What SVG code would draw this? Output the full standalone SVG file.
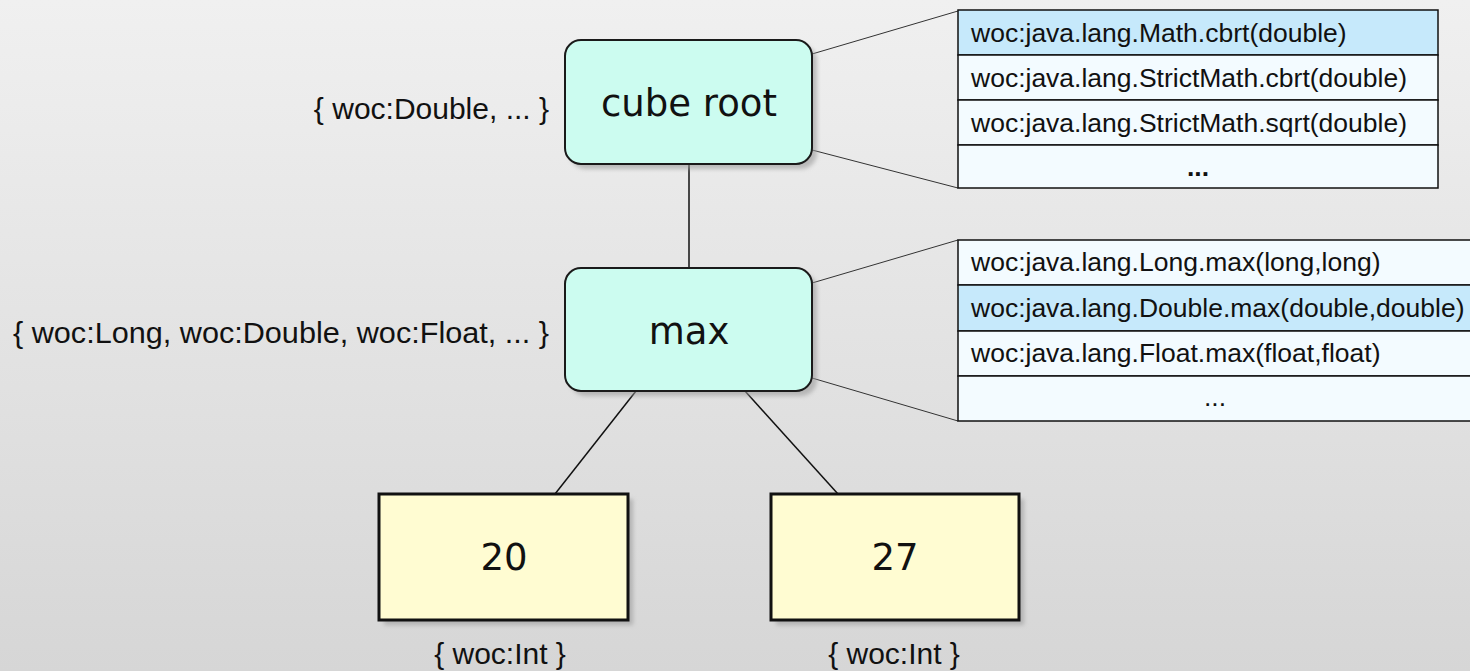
<svg xmlns="http://www.w3.org/2000/svg" width="1470" height="671" viewBox="0 0 1470 671">
<defs>
<linearGradient id="bg" x1="0" y1="0" x2="0" y2="1">
<stop offset="0" stop-color="#f0f0f0"/>
<stop offset="1" stop-color="#d6d6d6"/>
</linearGradient>
<filter id="sh" x="-10%" y="-10%" width="130%" height="130%">
<feGaussianBlur stdDeviation="2"/>
</filter>
</defs>
<style>
.op{fill:#ccfcf0;stroke:#1a1a1a;stroke-width:2}
.lit{fill:#fffcd2;stroke:#111;stroke-width:3}
.shadow{fill:#999;opacity:0.6;filter:url(#sh)}
.big{font-family:"DejaVu Sans",Verdana,sans-serif;font-size:37px;fill:#111;text-anchor:middle}
.ann{font-family:"Liberation Sans",Arial,sans-serif;font-size:30px;fill:#111}
.row{fill:#f3fbff;stroke:#111;stroke-width:1.5}
.hl{fill:#c6e9fb;stroke:#111;stroke-width:1.5}
.rt{font-family:"Liberation Sans",Arial,sans-serif;font-size:26.5px;fill:#111}
.conn{stroke:#111;stroke-width:1.5;fill:none}
.thin{stroke:#333;stroke-width:1;fill:none}
</style>
<rect width="1470" height="671" fill="url(#bg)"/>
<g id="connectors">
<line class="conn" x1="689" y1="164" x2="689" y2="268"/>
<line class="conn" x1="636" y1="391" x2="555" y2="494"/>
<line class="conn" x1="745" y1="391" x2="838" y2="494"/>
<line class="thin" x1="812" y1="54" x2="958" y2="11"/>
<line class="thin" x1="812" y1="150" x2="958" y2="188"/>
<line class="thin" x1="812" y1="283" x2="958" y2="240"/>
<line class="thin" x1="812" y1="378" x2="958" y2="421"/>
</g>
<g id="node-cuberoot">
<rect class="shadow" x="570" y="45" width="247" height="124" rx="16"/>
<rect class="op" x="565" y="40" width="247" height="124" rx="16"/>
<text class="big" x="689" y="116">cube root</text>
<text class="ann" x="549" y="119" text-anchor="end">{ woc:Double, ... }</text>
</g>
<g id="node-max">
<rect class="shadow" x="570" y="273" width="247" height="123" rx="16"/>
<rect class="op" x="565" y="268" width="247" height="123" rx="16"/>
<text class="big" x="689" y="344">max</text>
<text class="ann" x="13" y="343" textLength="536" lengthAdjust="spacingAndGlyphs">{ woc:Long, woc:Double, woc:Float, ... }</text>
</g>
<g id="node-20">
<rect class="shadow" x="384" y="499" width="249" height="126"/>
<rect class="lit" x="379" y="494" width="249" height="126"/>
<text class="big" x="504" y="570">20</text>
<text class="ann" x="500" y="664" text-anchor="middle">{ woc:Int }</text>
</g>
<g id="node-27">
<rect class="shadow" x="776" y="499" width="248" height="126"/>
<rect class="lit" x="771" y="494" width="248" height="126"/>
<text class="big" x="895" y="570">27</text>
<text class="ann" x="894" y="664" text-anchor="middle">{ woc:Int }</text>
</g>
<g id="table-cuberoot">
<rect class="hl" x="958" y="10" width="480" height="45"/>
<rect class="row" x="958" y="55" width="480" height="45"/>
<rect class="row" x="958" y="100" width="480" height="45"/>
<rect class="row" x="958" y="145" width="480" height="43"/>
<text class="rt" x="971" y="42">woc:java.lang.Math.cbrt(double)</text>
<text class="rt" x="971" y="87">woc:java.lang.StrictMath.cbrt(double)</text>
<text class="rt" x="971" y="132">woc:java.lang.StrictMath.sqrt(double)</text>
<text class="rt" x="1198" y="176" text-anchor="middle" font-weight="bold" font-size="22">...</text>
</g>
<g id="table-max">
<rect class="row" x="958" y="240" width="530" height="45"/>
<rect class="hl" x="958" y="285" width="530" height="46"/>
<rect class="row" x="958" y="331" width="530" height="45"/>
<rect class="row" x="958" y="376" width="530" height="45"/>
<text class="rt" x="971" y="271">woc:java.lang.Long.max(long,long)</text>
<text class="rt" x="971" y="317">woc:java.lang.Double.max(double,double)</text>
<text class="rt" x="971" y="362">woc:java.lang.Float.max(float,float)</text>
<text class="rt" x="1215" y="406" text-anchor="middle" fill="#777" font-size="20">...</text>
</g>
</svg>
